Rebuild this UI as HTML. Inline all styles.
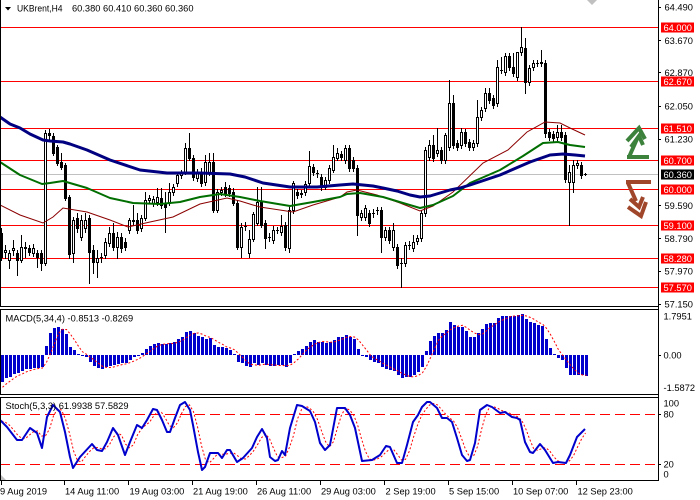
<!DOCTYPE html>
<html><head><meta charset="utf-8">
<style>
html,body{margin:0;padding:0;background:#fff;}
svg{display:block;}
text{font-family:"Liberation Sans",sans-serif;font-size:9.3px;fill:#000;}
</style></head><body>
<svg id="s" width="700" height="500" viewBox="0 0 700 500" xmlns="http://www.w3.org/2000/svg">
<rect width="700" height="500" fill="#fff"/>
<g stroke="#ff0000" stroke-width="1">
<line x1="0" x2="658" y1="27.5" y2="27.5"/>
<line x1="0" x2="658" y1="81.5" y2="81.5"/>
<line x1="0" x2="658" y1="128.5" y2="128.5"/>
<line x1="0" x2="658" y1="160.5" y2="160.5"/>
<line x1="0" x2="658" y1="189.5" y2="189.5"/>
<line x1="0" x2="658" y1="225.5" y2="225.5"/>
<line x1="0" x2="658" y1="258.5" y2="258.5"/>
<line x1="0" x2="658" y1="287.5" y2="287.5"/>
</g>
<line x1="0" x2="658" y1="174.5" y2="174.5" stroke="#c0c0c0" stroke-width="1"/>
<g id="cand"></g>
<polyline fill="none" stroke="#8b0000" stroke-width="1" points="0,205 20,215 43,223 53,217 63,208 87,212 110,220 128,227 150,222 173,217 200,204 227,198 240,201 253,205 260,207 293,212 313,205 330,200 340,197 347,192 357,190 377,195 400,203 420,211 433,206 453,192 483,163 508,150 527,132 545,122 560,123 570,128 585,135"/>
<polyline fill="none" stroke="#006e00" stroke-width="2" stroke-linejoin="round" points="0,162 20,175 42,184 50,183 63,181 87,188 110,198 133,203 160,204 180,202 200,197 220,194 240,197 260,201 290,206 313,202 340,197 347,194 360,193 383,197 403,203 420,208 433,205 453,196 470,183 500,170 523,156 543,143 558,142 570,145 585,147"/>
<polyline fill="none" stroke="#000080" stroke-width="3" stroke-linejoin="round" points="0,117 10,124 20,128 30,134 43,140 50,141 63,142 70,144 87,150 110,160 140,170 167,173 200,173 230,174 245,177 263,183 290,187 317,187 340,185 353,184 373,186 383,188 397,191 410,195 420,197 430,196 440,193 450,190 460,188 470,185 500,175 530,162 550,155 563,154 575,155 585,156"/>
<g id="macd"></g>
<polyline id="msig" fill="none" stroke="#ff0000" stroke-width="1" stroke-dasharray="2,2" points=""/>
<g stroke="#ff0000" stroke-width="1" stroke-dasharray="10,5">
<line x1="0" x2="658" y1="414.5" y2="414.5"/>
<line x1="0" x2="658" y1="464.5" y2="464.5"/>
</g>
<polyline id="ssig" fill="none" stroke="#ff0000" stroke-width="1" stroke-dasharray="2,2" points=""/>
<polyline id="smain" fill="none" stroke="#0000cd" stroke-width="2" stroke-linejoin="round" points=""/>
<g stroke="#000" stroke-width="1">
<line x1="0.5" x2="0.5" y1="0" y2="306"/>
<line x1="0.5" x2="0.5" y1="309" y2="394"/>
<line x1="0.5" x2="0.5" y1="397" y2="480"/>
<line x1="658.5" x2="658.5" y1="0" y2="481"/>
<line x1="0" x2="659" y1="306.5" y2="306.5"/>
<line x1="0" x2="659" y1="309.5" y2="309.5"/>
<line x1="0" x2="659" y1="394.5" y2="394.5"/>
<line x1="0" x2="659" y1="397.5" y2="397.5"/>
<line x1="0" x2="659" y1="480.5" y2="480.5"/>
<line x1="1.5" x2="1.5" y1="481" y2="485"/>
<line x1="64.5" x2="64.5" y1="481" y2="485"/>
<line x1="128.5" x2="128.5" y1="481" y2="485"/>
<line x1="192.5" x2="192.5" y1="481" y2="485"/>
<line x1="256.5" x2="256.5" y1="481" y2="485"/>
<line x1="320.5" x2="320.5" y1="481" y2="485"/>
<line x1="384.5" x2="384.5" y1="481" y2="485"/>
<line x1="448.5" x2="448.5" y1="481" y2="485"/>
<line x1="512.5" x2="512.5" y1="481" y2="485"/>
<line x1="576.5" x2="576.5" y1="481" y2="485"/>
<line x1="658" x2="661" y1="7.5" y2="7.5"/>
<line x1="658" x2="661" y1="40.5" y2="40.5"/>
<line x1="658" x2="661" y1="72.5" y2="72.5"/>
<line x1="658" x2="661" y1="106.5" y2="106.5"/>
<line x1="658" x2="661" y1="139.5" y2="139.5"/>
<line x1="658" x2="661" y1="205.5" y2="205.5"/>
<line x1="658" x2="661" y1="238.5" y2="238.5"/>
<line x1="658" x2="661" y1="271.5" y2="271.5"/>
<line x1="658" x2="661" y1="304.5" y2="304.5"/>
<line x1="658" x2="661" y1="355.5" y2="355.5"/>
<line x1="658" x2="661" y1="414.5" y2="414.5"/>
<line x1="658" x2="661" y1="464.5" y2="464.5"/>
</g>
<polygon points="5,7 11,7 8,10.5" fill="#000"/>
<polygon points="587,0 597,0 592,5" fill="#c0c0c0"/>
<polygon points="1,475 1,480 6,480" fill="#c0c0c0"/>
<g fill="none" stroke="#3c823c" stroke-width="4" stroke-linejoin="miter">
<path d="M627,157 H649"/>
<path d="M629,157 L637,139"/>
<path d="M627,141 L639,128 L645,139"/>
<path d="M631,147 L639,136 L643,145"/>
</g>
<g fill="none" stroke="#a0462a" stroke-width="4" stroke-linejoin="miter">
<path d="M626,182 H651"/>
<path d="M628,183 L636,201"/>
<path d="M628,207 L641,216 L646,202"/>
<path d="M630,199 L639,207 L643,197"/>
</g>
<text x="17" y="11.5" textLength="45.5" lengthAdjust="spacingAndGlyphs">UKBrent,H4</text>
<text x="72" y="11.5">60.380 60.410 60.360 60.360</text>
<text x="5.5" y="321.5">MACD(5,34,4) -0.8513 -0.8269</text>
<text x="5.5" y="409">Stoch(5,3,3) 61.9938 57.5829</text>
<text x="664.5" y="10.6">64.490</text>
<text x="664.5" y="44">63.670</text>
<text x="664.5" y="76">62.870</text>
<text x="664.5" y="109.3">62.050</text>
<text x="664.5" y="142.6">61.230</text>
<text x="664.5" y="209">59.590</text>
<text x="664.5" y="242">58.790</text>
<text x="664.5" y="274.6">57.970</text>
<text x="664.5" y="307.6">57.150</text>
<g fill="#ff0000">
<rect x="661" y="22.5" width="33" height="10"/>
<rect x="661" y="76.5" width="33" height="10"/>
<rect x="661" y="123.5" width="33" height="10"/>
<rect x="661" y="155.5" width="33" height="10"/>
<rect x="661" y="184.5" width="33" height="10"/>
<rect x="661" y="220.5" width="33" height="10"/>
<rect x="661" y="253.5" width="33" height="10"/>
<rect x="661" y="282.5" width="33" height="10"/>
</g>
<rect x="661" y="169.5" width="33" height="10" fill="#000"/>
<g>
<text x="663.5" y="31.2" style="fill:#fff">64.000</text>
<text x="663.5" y="85.2" style="fill:#fff">62.670</text>
<text x="663.5" y="132.2" style="fill:#fff">61.510</text>
<text x="663.5" y="164.2" style="fill:#fff">60.700</text>
<text x="663.5" y="193.2" style="fill:#fff">60.000</text>
<text x="663.5" y="229.2" style="fill:#fff">59.100</text>
<text x="663.5" y="262.2" style="fill:#fff">58.280</text>
<text x="663.5" y="291.2" style="fill:#fff">57.570</text>
<text x="663.5" y="178.2" style="fill:#fff">60.360</text>
</g>
<text x="663.5" y="319.5">1.7951</text>
<text x="663.5" y="358.6">0.00</text>
<text x="663.5" y="391">-1.5872</text>
<text x="663.5" y="406.5">100</text>
<text x="663.5" y="417.5">80</text>
<text x="663.5" y="467.5">20</text>
<text x="663.5" y="477.5">0</text>
<text x="0" y="494.5">9 Aug 2019</text>
<text x="65" y="494.5">14 Aug 11:00</text>
<text x="129.5" y="494.5">19 Aug 03:00</text>
<text x="193" y="494.5">21 Aug 19:00</text>
<text x="257" y="494.5">26 Aug 11:00</text>
<text x="321" y="494.5">29 Aug 03:00</text>
<text x="385.5" y="494.5">2 Sep 19:00</text>
<text x="449" y="494.5">5 Sep 15:00</text>
<text x="513" y="494.5">10 Sep 07:00</text>
<text x="577.5" y="494.5">12 Sep 23:00</text>
</svg>
<script>
(function(){
var D=[[233,257,228,260],[252,250,245,258],[260,253,250,268],[250,248,240,255],[253,260,250,275],[260,247,235,262],[247,248,242,257],[248,252,245,255],[253,248,244,256],[253,257,250,267],
[253,263,250,270],[263,133,130,265],[133,135,129,140],[136,153,133,155],[147,163,145,165],[162,167,153,169],[165,198,163,200],[197,254,195,258],[253,220,217,262],[218,228,213,232],
[237,220,215,240],[228,220,213,232],[218,252,215,283],[250,262,245,273],[262,258,250,277],[257,257,253,262],[255,242,238,258],[243,233,227,246],[233,247,223,250],[247,237,232,258],
[237,248,233,252],[242,247,238,250],[230,220,218,233],[221,220,205,225],[220,230,213,233],[228,218,215,231],[218,200,192,220],[200,198,195,203],[203,199,196,206],[202,197,188,205],
[198,205,188,208],[203,207,192,232],[203,192,183,205],[192,187,184,195],[183,175,172,186],[175,172,170,178],[172,148,143,174],[148,158,133,160],[158,177,155,180],[178,172,169,181],
[172,183,168,186],[182,162,155,185],[172,162,153,175],[162,210,153,212],[210,192,189,212],[192,190,187,195],[187,193,182,196],[188,193,185,196],[192,203,188,205],[203,247,200,249],
[247,227,223,257],[226,226,222,230],[253,239,230,257],[239,214,212,241],[223,202,187,225],[202,225,187,227],[223,238,220,248],[237,237,233,241],[240,230,226,243],[230,230,227,233],
[232,226,215,235],[225,247,222,250],[248,210,207,252],[210,183,181,213],[192,195,189,198],[193,194,190,197],[192,184,181,195],[183,166,151,186],[167,172,164,175],[173,173,170,177],
[177,187,174,190],[187,180,177,189],[180,168,165,183],[170,157,145,172],[158,153,148,160],[154,157,151,160],[160,148,145,163],[148,168,145,171],[160,168,157,171],[168,215,165,235],
[217,213,210,220],[217,208,205,220],[213,223,210,226],[213,213,209,217],[210,210,207,214],[210,237,207,252],[237,230,227,240],[230,240,227,243],[247,230,223,250],[247,265,244,268],
[263,263,258,287],[263,245,242,266],[245,245,241,249],[248,242,235,251],[241,238,235,244],[238,213,210,241],[213,150,147,216],[157,145,140,160],[145,158,135,161],[153,150,128,156],
[150,160,147,163],[160,135,133,163],[147,103,80,150],[103,145,95,148],[143,147,140,150],[145,132,128,148],[132,143,129,146],[142,147,139,150],[147,143,140,150],[143,117,100,146],
[117,110,107,120],[108,93,88,111],[93,100,88,103],[98,105,95,108],[103,67,60,106],[70,70,57,73],[72,56,53,75],[56,67,53,70],[67,73,53,76],[77,52,52,80],
[52,47,27,55],[48,82,38,93],[82,68,65,85],[67,63,60,70],[63,63,60,66],[63,62,50,66],[63,133,60,137],[132,137,129,140],[134,138,131,141],[137,132,125,140],
[132,137,125,140],[135,179,132,182],[182,172,165,225],[182,165,160,192],[165,163,160,168],[165,175,162,178],[174,174,173,175]];
var s='';
for(var i=0;i<D.length;i++){
 var d=D[i],o=d[0],c=d[1],h=d[2],l=d[3],x=4*i;
 s+='<line x1="'+(x+1.5)+'" x2="'+(x+1.5)+'" y1="'+h+'" y2="'+(l+1)+'" stroke="#000" stroke-width="1"/>';
 var t=Math.min(o,c),b=Math.max(o,c);
 if(b-t<1){s+='<line x1="'+x+'" x2="'+(x+3)+'" y1="'+(t+0.5)+'" y2="'+(t+0.5)+'" stroke="#000" stroke-width="1"/>';}
 else{s+='<rect x="'+(x+0.5)+'" y="'+(t+0.5)+'" width="2" height="'+(b-t)+'" fill="'+(c<o?'#fff':'#000')+'" stroke="#000" stroke-width="1"/>';}
}
document.getElementById('cand').innerHTML=s;
var M=[382,378,377,374,373,371,369,369,368,368,367,346,333,328,327,329,334,347,350,354,356,357,362,366,368,369,367,366,365,364,363,363,360,357,356,353,349,346,344,343,344,344,343,342,339,337,332,331,333,336,337,339,338,345,347,347,348,350,354,362,363,366,367,363,365,363,365,366,366,365,365,367,363,354,351,349,346,342,340,342,342,343,342,340,337,337,335,337,
339,349,355,357,360,362,363,367,369,370,371,375,378,377,377,375,372,367,351,341,336,333,333,330,322,325,327,327,331,337,337,333,329,324,323,323,318,316,316,316,316,315,314,319,322,323,325,326,339,348,354,358,360,368,375,375,375,375,376];
var z=355;s='';
for(i=0;i<M.length;i++){var v=M[i],t2=Math.min(v,z),b2=Math.max(v,z);s+='<rect x="'+(4*i+1)+'" y="'+t2+'" width="3" height="'+Math.max(b2-t2,1)+'" fill="#0000cd"/>';}
document.getElementById('macd').innerHTML=s;
var A=[392,389,386].concat(M),pts=[];
for(i=0;i<M.length;i++){var sg=(A[i]+A[i+1]+A[i+2]+A[i+3])/4;pts.push((4*i+2.5)+','+sg.toFixed(1));}
document.getElementById('msig').setAttribute('points',pts.join(' '));
var P=[[0,420],[7,427],[17,440],[22,440],[30,428],[37,433],[42,448],[47,417],[53,405],[60,412],[65,432],[70,457],[73,468],[80,457],[92,444],[97,450],[102,451],[107,442],[113,428],[118,435],[125,455],[130,442],[137,425],[142,428],[147,420],[153,409],[157,410],[162,420],[167,432],[170,432],[175,418],[180,405],[185,402],[190,410],[193,425],[198,452],[202,470],[205,467],[210,453],[218,453],[222,458],[227,450],[230,450],[237,462],[243,458],[252,448],[257,437],[262,429],[267,438],[270,457],[275,461],[278,460],[282,451],[285,455],[290,428],[297,405],[302,406],[310,411],[315,422],[320,443],[325,450],[330,445],[337,408],[345,408],[350,415],[355,428],[362,461],[372,460],[380,455],[386,446],[390,447],[397,463],[402,463],[407,445],[413,422],[418,415],[422,407],[427,402],[430,402],[437,408],[442,418],[447,418],[452,422],[457,438],[462,455],[467,461],[470,460],[475,443],[480,410],[487,405],[492,407],[500,413],[505,412],[512,417],[517,418],[520,420],[525,442],[530,452],[533,453],[540,444],[545,450],[553,463],[558,462],[566,463],[570,455],[577,437],[585,429]];
var mp=[];for(i=0;i<P.length;i++)mp.push(P[i][0]+','+P[i][1]);
document.getElementById('smain').setAttribute('points',mp.join(' '));
function ip(x){if(x<=P[0][0])return P[0][1];for(var k=1;k<P.length;k++){if(x<=P[k][0]){var a=P[k-1],b=P[k];return a[1]+(b[1]-a[1])*(x-a[0])/(b[0]-a[0]);}}return P[P.length-1][1];}
var sv=[];for(i=0;i<147;i++)sv.push(ip(4*i+1));
var sp=[];for(i=0;i<147;i++){var a0=sv[Math.max(i-2,0)],a1=sv[Math.max(i-1,0)],a2=sv[i];sp.push((4*i+1.5)+','+((a0+a1+a2)/3).toFixed(1));}
document.getElementById('ssig').setAttribute('points',sp.join(' '));
})();
</script>
</body></html>
